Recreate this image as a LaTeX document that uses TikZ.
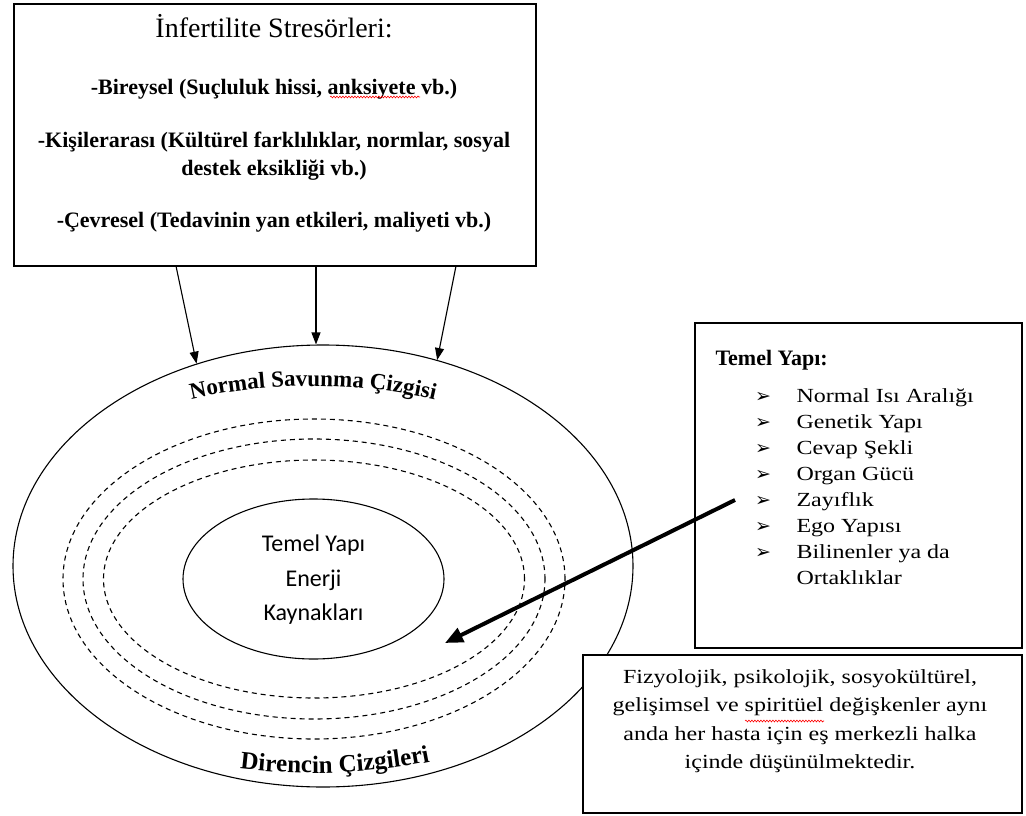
\documentclass[tikz,border=0pt]{standalone}
\usepackage{fontspec}
\setmainfont{Liberation Serif}
\newfontfamily\genisserif[FakeStretch=1.2]{Liberation Serif}
\newfontfamily\sansyazi{Carlito}
\newfontfamily\isaretfont{DejaVu Sans}
\usepackage{tikz}
\usetikzlibrary{arrows.meta}
\usetikzlibrary{shapes.geometric}
\usetikzlibrary{decorations.text}
\usetikzlibrary{decorations.pathmorphing}

\tikzset{
  kutu/.style={draw, rectangle, line width=1.3pt, fill=white, inner sep=0pt},
  halka/.style={draw, ellipse, line width=1.1pt, inner sep=0pt},
  kesik/.style={halka, dash pattern=on 5pt off 4pt},
  inceok/.style={line width=1.1pt, -{Triangle[length=12pt,width=9pt]}},
  kalinok/.style={line width=4pt, -{Triangle[length=18pt,width=15pt]}},
  kalinyazi/.style={font=\bfseries\fontsize{22pt}{22pt}\selectfont, anchor=base},
  madde/.style={anchor=mid west, font=\genisserif\fontsize{20pt}{20pt}\selectfont},
  isaret/.style={anchor=mid, font=\isaretfont\fontsize{19pt}{19pt}\selectfont},
  imla/.style={red, line width=.6pt, decorate, decoration={snake, amplitude=.9pt, segment length=3pt}}
}

\begin{document}
\begin{tikzpicture}[x=1pt,y=-1pt]
\useasboundingbox (0,0) rectangle (1026,816);

% halkalar
\node[halka, minimum width=620pt, minimum height=442pt] (savunma) at (323,566) {};
\foreach \g/\h [count=\i] in {502/320, 462/280, 421/238}
  \node[kesik, minimum width=\g pt, minimum height=\h pt] (direnc\i) at (314,579) {};
\node[halka, minimum width=261pt, minimum height=160pt] (cekirdek) at (313.5,579) {};
\node[align=center, font=\sansyazi\fontsize{24pt}{34.5pt}\selectfont] (enerji) at (313.5,580) {Temel Yapı\\Enerji\\Kaynakları};

\path[decorate, decoration={text along path, text align=center,
  text={|\bfseries\fontsize{23pt}{23pt}\selectfont|Normal Savunma Çizgisi}}]
  (313,566) ++(230:320 and 180) arc[start angle=230, end angle=310, x radius=320, y radius=180];
\path[decorate, decoration={text along path,
  text={|\bfseries\fontsize{25pt}{25pt}\selectfont|Direncin Çizgileri}}]
  (313,566) ++(101.7:360 and 207) arc[start angle=101.7, end angle=60, x radius=360, y radius=207];

% stresorler
\node[kutu, minimum width=522pt, minimum height=262pt] (stres) at (275,135) {};
\node[font=\fontsize{28pt}{28pt}\selectfont, anchor=base] (baslik) at (274,37.5) {İnfertilite Stresörleri:};
\node[kalinyazi] (bireysel) at (274,95) {-Bireysel (Suçluluk hissi, anksiyete vb.)};
\node[kalinyazi] (kisiler) at (274,147) {-Kişilerarası (Kültürel farklılıklar, normlar, sosyal};
\node[kalinyazi] (destek) at (274,175) {destek eksikliği vb.)};
\node[kalinyazi] (cevre) at (274,227) {-Çevresel (Tedavinin yan etkileri, maliyeti vb.)};
\draw[imla] (330,97) -- (420,97);

\coordinate (s1) at (176,266);
\coordinate (s2) at (316,266);
\coordinate (s3) at (456,266);
\draw[inceok] (s1) -- (savunma.122);
\draw[inceok] (s2) -- (s2 |- savunma.north);
\draw[inceok] (s3) -- (savunma.61);

% temel yapi
\node[kutu, minimum width=327pt, minimum height=325pt] (temel) at (858.5,485.5) {};
\node[font=\bfseries\fontsize{22pt}{22pt}\selectfont, anchor=base west] (temelbaslik) at (712,365) {Temel Yapı:};
\foreach \m [count=\i] in {Normal Isı Aralığı, Genetik Yapı, Cevap Şekli, Organ Gücü, Zayıflık, Ego Yapısı, Bilinenler ya da} {
  \node[isaret] (ok\i) at (763,{400.7+25.9*(\i-1)}) {➢};
  \node[madde] (m\i) at (793,{400.7+25.9*(\i-1)}) {\m};
}
\node[madde] (m8) at (793,582) {Ortaklıklar};

% aciklama
\node[kutu, minimum width=439pt, minimum height=158pt] (aciklama) at (802.5,734) {};
\node[align=center, font=\genisserif\fontsize{20pt}{28.5pt}\selectfont] (degisken) at (800,721)
  {Fizyolojik, psikolojik, sosyokültürel,\\gelişimsel ve spiritüel değişkenler aynı\\anda her hasta için eş merkezli halka\\içinde düşünülmektedir.};
\draw[imla] (745,721) -- (824,721);

\coordinate (zayif) at (735,500);
\coordinate (hedef) at (445,643);
\draw[kalinok] (zayif) -- (hedef);
\end{tikzpicture}
\end{document}
